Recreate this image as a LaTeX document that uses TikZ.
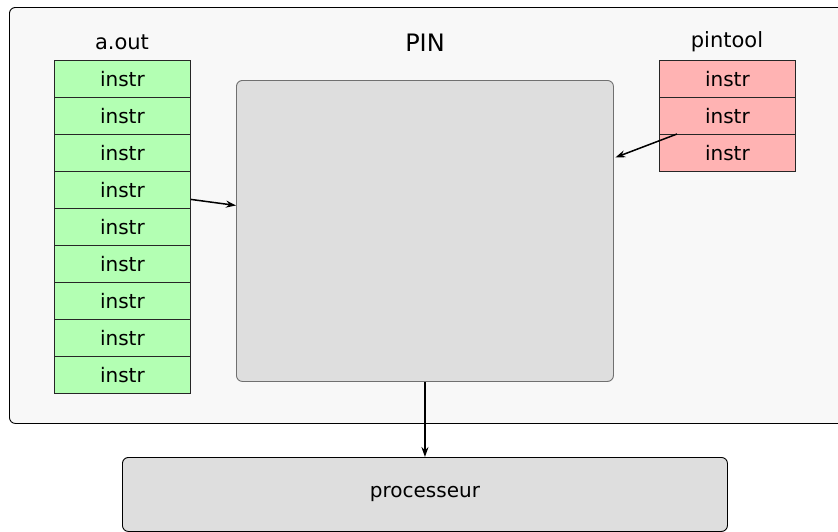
\documentclass[tikz,border=0pt]{standalone}
\usepackage{fontspec}
\setmainfont{DejaVu Sans}
\usetikzlibrary{arrows.meta}
\definecolor{bgc}{HTML}{F8F8F8}
\definecolor{greenc}{HTML}{B3FFB3}
\definecolor{pinkc}{HTML}{FFB3B3}
\definecolor{grayc}{HTML}{DEDEDE}
\definecolor{grayline}{HTML}{707070}
\begin{document}
\begin{tikzpicture}[x=1pt,y=-1pt,
  container/.style={draw=black, line width=0.9pt, fill=bgc, rounded corners=6pt, anchor=north west, inner sep=0pt},
  rowbox/.style={draw=black!85, line width=0.8pt, minimum width=136pt, minimum height=37pt, inner sep=0pt, anchor=north west, font=\fontsize{20}{23}\selectfont},
  greenrow/.style={rowbox, fill=greenc},
  pinkrow/.style={rowbox, fill=pinkc},
  pinbox/.style={draw=grayline, line width=0.9pt, fill=grayc, rounded corners=6pt, anchor=north west, inner sep=0pt},
  procbox/.style={draw=black, line width=0.9pt, fill=grayc, rounded corners=6pt, anchor=north west, inner sep=0pt, font=\fontsize{20}{23}\selectfont},
  lbl/.style={inner sep=0pt, font=\fontsize{21}{25}\selectfont},
  arr/.style={-{Stealth[length=10pt,width=7pt]}, line width=1.5pt, black}
]
\useasboundingbox (0,0) rectangle (838,531);
\clip (0,0) rectangle (838,531);
\node[container, minimum width=845pt, minimum height=416pt] (outer) at (9,7) {};
\node[lbl] (aout) at (122,42) {a.out};
\node[lbl, font=\fontsize{24}{28}\selectfont] (pinlbl) at (425,43) {PIN};
\node[lbl] (pintool) at (727,42) {pintool};
\foreach \i in {1,...,9} {
  \node[greenrow] (g\i) at (54,{60+37*(\i-1)}) {instr};
}
\foreach \i in {1,2,3} {
  \node[pinkrow] (p\i) at (659,{60+37*(\i-1)}) {instr};
}
\node[pinbox, minimum width=377pt, minimum height=301pt] (pinbox) at (236,80) {};
\node[procbox, minimum width=605pt, minimum height=74pt] (proc) at (122,457) {processeur};
\draw[arr] ([yshift=-9.5pt]g4.east) -- ([yshift=25.5pt]pinbox.west);
\draw[arr] ([xshift=18pt]p3.north west) -- ([xshift=1.5pt,yshift=73.5pt]pinbox.east);
\draw[arr] (pinbox.south) -- (proc.north);
\end{tikzpicture}
\end{document}
